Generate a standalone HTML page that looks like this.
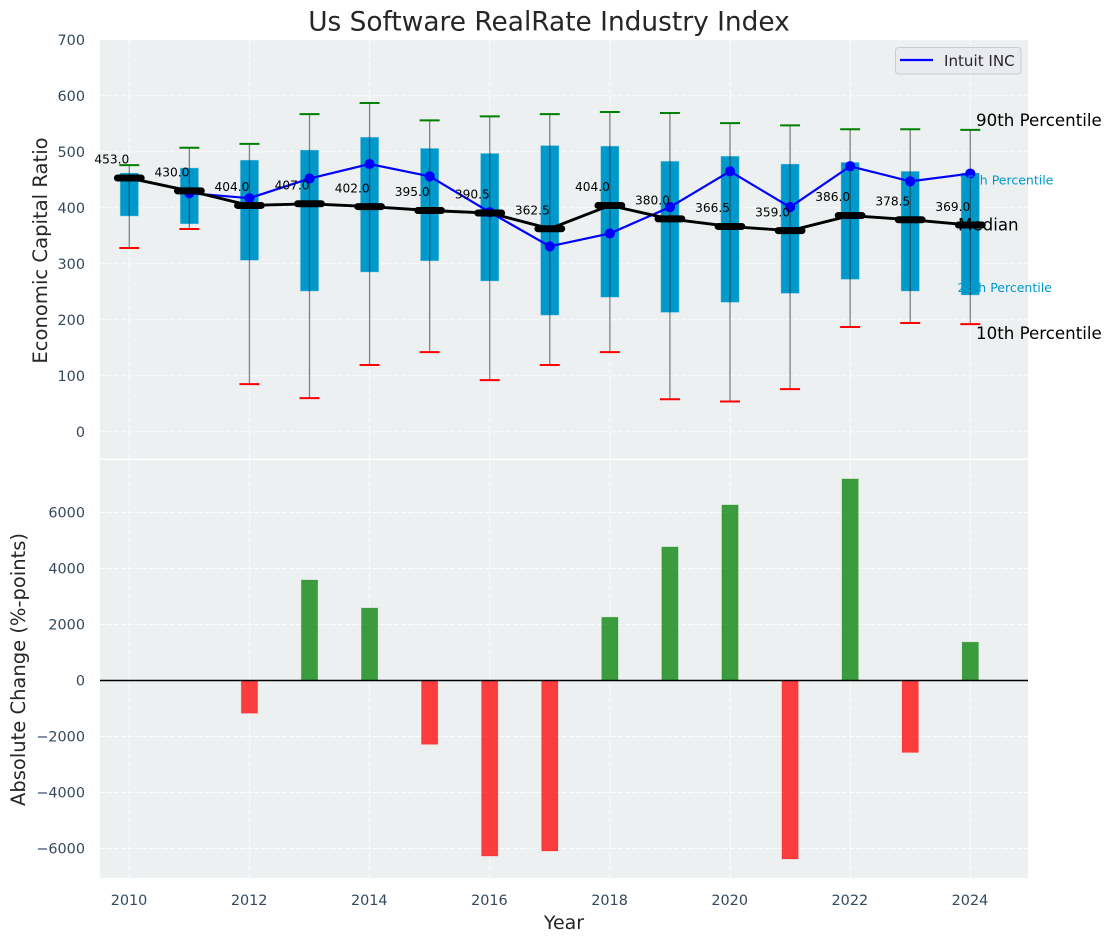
<!DOCTYPE html>
<html lang="en">
<head>
<meta charset="utf-8">
<title>Us Software RealRate Industry Index</title>
<style>
html,body{margin:0;padding:0;background:#fff;width:1111px;height:942px;overflow:hidden}
svg{display:block;font-family:"DejaVu Sans","Liberation Sans",sans-serif}
</style>
</head>
<body>
<svg id="chart" xmlns="http://www.w3.org/2000/svg" width="1111" height="942" viewBox="0 0 1111 942">
  <rect x="100" y="40" width="928" height="418.5" fill="#ecf0f1"/>
  <rect x="100" y="460" width="928" height="418" fill="#ecf0f1"/>
  <g id="grid"></g>
  <g id="marks-top"></g>
  <g id="marks-bottom"></g>
  <line x1="100" x2="1028" y1="680.5" y2="680.5" stroke="#000" stroke-width="1.4"/>
  <g id="annotations"></g>
  <g>
    <text x="976" y="126" font-size="16.67" fill="#000">90th Percentile</text>
    <text x="959" y="184.5" font-size="12.5" fill="#0099cc">75th Percentile</text>
    <text x="958" y="230.5" font-size="16.67" fill="#000">Median</text>
    <text x="957.5" y="292" font-size="12.5" fill="#0099cc">25th Percentile</text>
    <text x="976" y="339" font-size="16.67" fill="#000">10th Percentile</text>
  </g>
  <g id="ticks"></g>
  <text x="549" y="30.5" font-size="26.4" fill="#262626" text-anchor="middle">Us Software RealRate Industry Index</text>
  <text transform="translate(47 250.5) rotate(-90)" font-size="19.6" fill="#262626" text-anchor="middle">Economic Capital Ratio</text>
  <text transform="translate(25 669.5) rotate(-90)" font-size="19.5" fill="#262626" text-anchor="middle">Absolute Change (%-points)</text>
  <text x="564" y="929" font-size="19" fill="#262626" text-anchor="middle">Year</text>
  <g>
    <rect x="895.5" y="47.5" width="125.5" height="26.5" rx="3" fill="#eaeaf2" fill-opacity="0.8" stroke="#cccccc"/>
    <line x1="900" x2="933" y1="60" y2="60" stroke="#0000ff" stroke-width="2.2"/>
    <text x="944" y="66" font-size="15.1" fill="#262626">Intuit INC</text>
  </g>
</svg>
<script>
const years = [2010,2011,2012,2013,2014,2015,2016,2017,2018,2019,2020,2021,2022,2023,2024];
const p90 = [476,507,514,567,587,556,563,567,571,569,551,547,540,540,539];
const p75 = [462,471,485,503,526,506,497,511,510,483,492,478,481,465,462];
const median = [453,430,404,407,402,395,390.5,362.5,404,380,366.5,359,386,378.5,369];
const p25 = [385,371,306,251,285,305,269,208,240,213,231,247,272,251,244];
const p10 = [328,362,85,60,119,142,92,119,142,58,54,76,187,194,192];
const intuitYears = [2011,2012,2013,2014,2015,2016,2017,2018,2019,2020,2021,2022,2023,2024];
const intuit = [426,417,452,478,456,392,331,354,401,465,401,474,447,461];
const changeYears = [2012,2013,2014,2015,2016,2017,2018,2019,2020,2021,2022,2023,2024];
const change = [-1170,3590,2590,-2280,-6270,-6090,2260,4770,6270,-6375,7200,-2570,1370];
const xTicks = [2010,2012,2014,2016,2018,2020,2022,2024];
const topTicks = [0,100,200,300,400,500,600,700];
const bottomTicks = [-6000,-4000,-2000,0,2000,4000,6000];

const NS = 'http://www.w3.org/2000/svg';
function xAxis(v){ return 129.3 + (v - 2010) * 60.07; }
function yTop(v){ return 431.7 - v * 0.56; }
function yBottom(v){ return 680.5 - v * 0.028; }
function make(tag, attrs, parent){
  const node = document.createElementNS(NS, tag);
  for (const k in attrs) node.setAttribute(k, attrs[k]);
  parent.appendChild(node);
  return node;
}
function fmtTick(v){ return v < 0 ? '\u2212' + Math.abs(v) : String(v); }

const grid = document.getElementById('grid');
const marksTop = document.getElementById('marks-top');
const marksBottom = document.getElementById('marks-bottom');
const annotations = document.getElementById('annotations');
const ticks = document.getElementById('ticks');
const gridStyle = {stroke:'#ffffff','stroke-width':1,'stroke-dasharray':'5 2','stroke-opacity':0.85};

xTicks.forEach(function(t){
  const a = make('line', Object.assign({x1:xAxis(t),x2:xAxis(t),y1:40,y2:458.5}, gridStyle), grid);
  
  
  const b = make('line', Object.assign({x1:xAxis(t),x2:xAxis(t),y1:460,y2:878}, gridStyle), grid);
  
  
  const label = make('text', {x:xAxis(t)-0.3,y:905,'font-size':14.4,fill:'#34495e','text-anchor':'middle'}, ticks);
  label.textContent = String(t);
  
  
});
topTicks.forEach(function(t){
  const y = yTop(t);
  const l = make('line', Object.assign({x1:100,x2:1028,y1:y,y2:y}, gridStyle), grid);
  
  
  const label = make('text', {x:85,y:y+5.2,'font-size':14.4,fill:'#34495e','text-anchor':'end'}, ticks);
  label.textContent = fmtTick(t);
  
  
});
bottomTicks.forEach(function(t){
  const y = yBottom(t);
  const l = make('line', Object.assign({x1:100,x2:1028,y1:y,y2:y}, gridStyle), grid);
  
  
  const label = make('text', {x:85,y:y+5.2,'font-size':14.4,fill:'#34495e','text-anchor':'end'}, ticks);
  label.textContent = fmtTick(t);
  
  
});

years.forEach(function(yr, i){
  const x = xAxis(yr);
  const box = make('rect', {x:x-9.2,y:yTop(p75[i]),width:18.4,height:yTop(p25[i])-yTop(p75[i]),fill:'#0099cc',stroke:'#add8e6','stroke-width':0.8,'stroke-opacity':0.5}, marksTop);
  
  
  const whisker = make('line', {x1:x,x2:x,y1:yTop(p90[i]),y2:yTop(p10[i]),stroke:'#222222','stroke-width':1.3,'stroke-opacity':0.55}, marksTop);
  
  
  const capHigh = make('line', {x1:x-10,x2:x+10,y1:yTop(p90[i]),y2:yTop(p90[i]),stroke:'#008000','stroke-width':2}, marksTop);
  
  
  const capLow = make('line', {x1:x-10,x2:x+10,y1:yTop(p10[i]),y2:yTop(p10[i]),stroke:'#ff0000','stroke-width':2}, marksTop);
  
  
});

const intuitLine = make('polyline', {points:intuitYears.map(function(yr,i){return xAxis(yr)+','+yTop(intuit[i]);}).join(' '),fill:'none',stroke:'#0000ff','stroke-width':2.2}, marksTop);


intuitYears.forEach(function(yr,i){
  const dot = make('circle', {cx:xAxis(yr),cy:yTop(intuit[i]),r:5.1,fill:'#0000ff'}, marksTop);
  
  
});

const medianLine = make('polyline', {points:years.map(function(yr,i){return xAxis(yr)+','+yTop(median[i]);}).join(' '),fill:'none',stroke:'#000000','stroke-width':2.9}, marksTop);


years.forEach(function(yr,i){
  const x = xAxis(yr), y = yTop(median[i]);
  const cap = make('line', {x1:x-11.9,x2:x+11.9,y1:y,y2:y,stroke:'#000000','stroke-width':7,'stroke-linecap':'round'}, marksTop);
  
  
  const label = make('text', {x:x,y:y-14.3,'font-size':12.2,fill:'#000000','text-anchor':'end'}, annotations);
  label.textContent = median[i].toFixed(1);
  
  
});

changeYears.forEach(function(yr,i){
  const v = change[i];
  const top = Math.min(yBottom(v), yBottom(0));
  const h = Math.abs(yBottom(v) - yBottom(0));
  const color = v >= 0 ? '#008000' : '#ff0000';
  const bar = make('rect', {x:xAxis(yr)-8.2,y:top,width:16.4,height:h,fill:color,'fill-opacity':0.75,stroke:color,'stroke-opacity':0.2,'stroke-width':0.8}, marksBottom);
  
  
});
</script>
</body>
</html>
